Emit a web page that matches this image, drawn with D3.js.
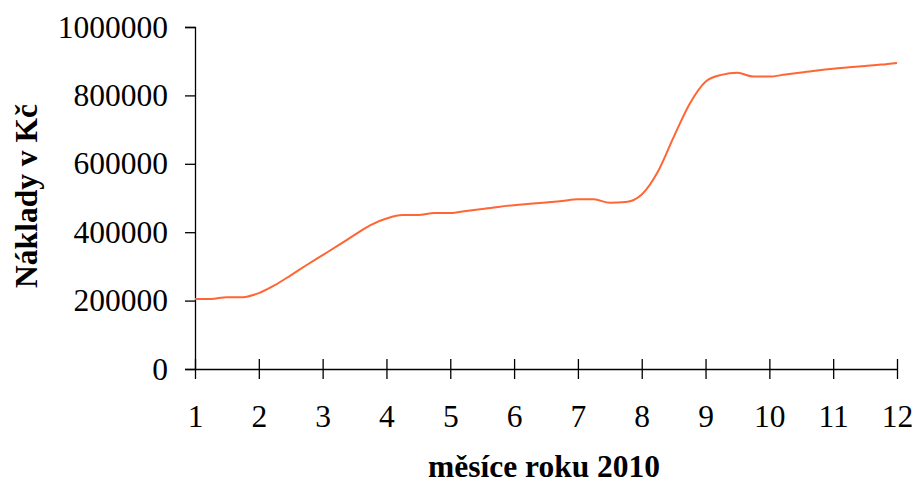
<!DOCTYPE html>
<html>
<head>
<meta charset="utf-8">
<script src="https://cdn.jsdelivr.net/npm/d3@7"></script>
<style>
  body { margin: 0; background: #fff; }
  svg { display: block; }
  text { font-family: "Liberation Serif", "Times New Roman", serif; fill: #000; }
</style>
</head>
<body>
<svg></svg>
<script>
// chart size
const width = 914, height = 488;
const margin = { top: 27, right: 17, bottom: 119, left: 195 };
const fontSize = 31.5;

// data: costs, one point per quarter month
const months = [
  1, 1.25, 1.5, 1.75, 2, 2.25, 2.5, 2.75, 3, 3.25, 3.5, 3.75,
  4, 4.25, 4.5, 4.75, 5, 5.25, 5.5, 5.75, 6, 6.25, 6.5, 6.75,
  7, 7.25, 7.5, 7.75, 8, 8.25, 8.5, 8.75, 9, 9.25, 9.5, 9.75,
  10, 10.25, 10.5, 10.75, 11, 11.25, 11.5, 11.75, 12
];
const costs = [
  205000, 205000, 210000, 210000, 222000, 245000, 274000, 304000, 333000, 362000, 392000, 421000,
  440000, 450000, 450000, 456000, 456000, 462000, 468000, 474000, 479000, 483000, 487000, 491000,
  496000, 496000, 486000, 488000, 510000, 576000, 678000, 775000, 840000, 860000, 866000, 855000,
  855000, 861000, 867000, 873000, 878000, 882000, 886000, 890000, 895000
];
const xTicks = [1, 2, 3, 4, 5, 6, 7, 8, 9, 10, 11, 12];
const yTicks = [0, 200000, 400000, 600000, 800000, 1000000];
const xTitle = "měsíce roku 2010";
const yTitle = "Náklady v Kč";

const svg = d3.select("svg")
  .attr("width", width)
  .attr("height", height);

const x = d3.scaleLinear()
  .domain([1, 12])
  .range([margin.left, width - margin.right]);

const y = d3.scaleLinear()
  .domain([0, 1000000])
  .range([height - margin.bottom, margin.top]);

// y axis, ticks only on the outside
const yAxis = svg.append("g")
  .attr("transform", `translate(${margin.left},0)`)
  .call(d3.axisLeft(y).tickValues(yTicks).tickFormat(d3.format("d")).tickSize(10).tickPadding(17));
yAxis.select(".domain").attr("stroke", "#000").attr("stroke-width", 1.3);
yAxis.selectAll(".tick line").attr("stroke", "#000").attr("stroke-width", 1.3);
yAxis.selectAll(".tick text").attr("font-size", fontSize).attr("font-family", "Liberation Serif");

// x axis, ticks cross the line
const xAxis = svg.append("g")
  .attr("transform", `translate(0,${height - margin.bottom})`)
  .call(d3.axisBottom(x).tickValues(xTicks).tickFormat(d3.format("d")).tickSizeOuter(0).tickSizeInner(10).tickPadding(26));
xAxis.select(".domain").attr("stroke", "#000").attr("stroke-width", 1.3);
xAxis.selectAll(".tick line")
  .attr("y1", -10).attr("y2", 10)
  .attr("stroke", "#000").attr("stroke-width", 1.3);
xAxis.selectAll(".tick text").attr("font-size", fontSize).attr("font-family", "Liberation Serif");

// the cost line
const line = d3.line()
  .x((d, i) => x(months[i]))
  .y(d => y(d))
  .curve(d3.curveMonotoneX);

svg.append("path")
  .datum(costs)
  .attr("fill", "none")
  .attr("stroke", "#ff6633")
  .attr("stroke-width", 2)
  .attr("d", line);

// axis titles
svg.append("text")
  .attr("x", 544)
  .attr("y", 477)
  .attr("text-anchor", "middle")
  .attr("font-size", fontSize)
  .attr("font-weight", "bold")
  .text(xTitle);

svg.append("text")
  .attr("transform", `translate(37,196) rotate(-90)`)
  .attr("text-anchor", "middle")
  .attr("font-size", fontSize)
  .attr("font-weight", "bold")
  .text(yTitle);
</script>
</body>
</html>
